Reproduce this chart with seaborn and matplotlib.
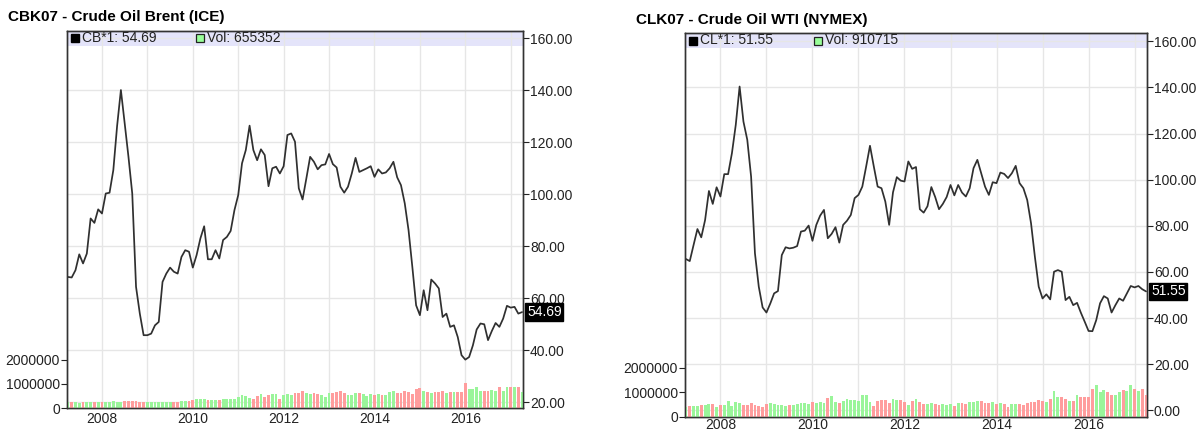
import numpy as np
import pandas as pd
import matplotlib
matplotlib.use("Agg")
import matplotlib.pyplot as plt
import matplotlib.transforms as mtransforms
from matplotlib.patches import Rectangle
from matplotlib.ticker import FixedLocator, FormatStrFormatter, MultipleLocator
import seaborn as sns

# ---------------- data ----------------
start_month = "2007-04-01"
n_months = 121

brent_title = "CBK07 - Crude Oil Brent (ICE)"
brent_symbol = "CB*1"
brent_last = 54.69
brent_last_volume = 655352
brent_close = [
    68.2, 68.0, 70.8, 76.9, 73.4, 77.2, 90.7, 89.0, 94.2,
    92.6, 100.3, 100.6, 109.3, 126.3, 140.1, 127.3, 114.4, 100.3, 64.4, 54.1, 45.8,
    45.8, 46.4, 49.6, 50.9, 66.3, 69.5, 71.8, 70.2, 69.5, 75.9, 78.5, 77.9,
    71.8, 76.6, 83.0, 87.7, 75.0, 75.0, 78.5, 75.3, 82.4, 83.6, 85.9, 93.9,
    99.7, 111.9, 117.0, 126.4, 117.0, 113.1, 117.3, 115.1, 103.1, 110.0, 110.6, 108.0,
    110.8, 122.8, 123.4, 120.2, 102.3, 98.0, 106.1, 114.4, 112.5, 109.6, 111.2, 111.5,
    115.5, 111.6, 110.3, 102.9, 100.6, 102.9, 108.0, 114.0, 108.6, 109.3, 110.0, 110.8,
    106.7, 109.6, 108.0, 108.4, 110.0, 112.5, 106.5, 103.5, 96.5, 86.2, 72.1, 57.3,
    53.5, 63.1, 55.4, 67.2, 65.7, 63.8, 52.8, 54.1, 49.0, 49.6, 45.1, 38.1,
    36.4, 37.4, 41.9, 48.0, 50.3, 50.0, 43.9, 47.4, 50.5, 49.0, 52.2, 57.1,
    56.4, 56.7, 54.1, 54.69,
]
brent_volume = [
    230e3, 230e3, 230e3, 220e3, 240e3, 230e3, 250e3, 240e3, 250e3,
    250e3, 230e3, 260e3, 290e3, 260e3, 240e3, 270e3, 280e3, 280e3, 270e3, 260e3, 250e3,
    240e3, 240e3, 250e3, 250e3, 250e3, 250e3, 260e3, 260e3, 250e3, 270e3, 280e3, 300e3,
    340e3, 360e3, 380e3, 380e3, 330e3, 330e3, 340e3, 340e3, 370e3, 380e3, 360e3, 380e3,
    450e3, 530e3, 500e3, 430e3, 380e3, 500e3, 580e3, 450e3, 550e3, 580e3, 560e3, 370e3,
    540e3, 560e3, 520e3, 600e3, 600e3, 700e3, 600e3, 560e3, 600e3, 560e3, 520e3, 450e3,
    600e3, 630e3, 660e3, 710e3, 620e3, 540e3, 540e3, 600e3, 600e3, 580e3, 500e3, 560e3,
    540e3, 560e3, 540e3, 520e3, 650e3, 700e3, 620e3, 620e3, 700e3, 660e3, 560e3, 800e3,
    820e3, 720e3, 660e3, 640e3, 650e3, 650e3, 720e3, 620e3, 680e3, 650e3, 680e3, 680e3,
    1020e3, 800e3, 780e3, 860e3, 720e3, 720e3, 720e3, 740e3, 720e3, 860e3, 700e3, 880e3,
    880e3, 880e3, 860e3, 655e3,
]

wti_title = "CLK07 - Crude Oil WTI (NYMEX)"
wti_symbol = "CL*1"
wti_last = 51.55
wti_last_volume = 910715
wti_close = [
    65.6, 64.7, 71.7, 78.6, 75.0, 82.5, 95.1, 89.5, 96.7,
    92.7, 102.4, 102.4, 111.5, 123.8, 140.4, 125.2, 117.3, 101.3, 68.1, 53.6, 44.6,
    42.4, 46.3, 50.7, 51.7, 67.3, 70.7, 70.2, 70.5, 71.2, 77.5, 77.9, 80.1,
    73.5, 80.4, 84.4, 86.9, 74.6, 76.5, 79.4, 72.7, 80.4, 82.2, 84.7, 92.0,
    93.4, 97.0, 105.7, 114.7, 105.7, 97.0, 96.3, 90.5, 80.4, 94.5, 101.1, 99.6,
    99.2, 107.9, 104.7, 105.5, 87.2, 85.7, 88.5, 96.8, 92.5, 87.2, 89.5, 92.5,
    97.7, 93.2, 97.7, 94.4, 92.7, 96.3, 105.0, 108.6, 102.8, 97.0, 93.4, 98.9,
    98.5, 103.1, 102.5, 100.7, 102.8, 106.0, 98.5, 96.3, 91.2, 81.1, 66.6, 53.6,
    48.5, 50.3, 48.1, 60.1, 60.8, 60.1, 47.8, 49.2, 45.6, 46.6, 42.3, 38.4,
    34.4, 34.3, 39.1, 46.4, 49.5, 48.5, 42.4, 45.6, 48.5, 47.5, 50.7, 53.9,
    53.3, 53.9, 52.5, 51.55,
]
wti_volume = [
    420e3, 440e3, 450e3, 440e3, 480e3, 500e3, 520e3, 520e3, 420e3,
    470e3, 470e3, 640e3, 460e3, 620e3, 560e3, 470e3, 480e3, 580e3, 480e3, 430e3, 420e3,
    520e3, 560e3, 520e3, 480e3, 480e3, 460e3, 470e3, 500e3, 520e3, 560e3, 560e3, 520e3,
    600e3, 580e3, 620e3, 580e3, 780e3, 840e3, 620e3, 560e3, 640e3, 720e3, 700e3, 680e3,
    640e3, 900e3, 900e3, 620e3, 440e3, 640e3, 700e3, 700e3, 560e3, 740e3, 700e3, 680e3,
    600e3, 480e3, 640e3, 740e3, 600e3, 520e3, 520e3, 580e3, 520e3, 480e3, 520e3, 480e3,
    520e3, 440e3, 580e3, 580e3, 520e3, 600e3, 620e3, 640e3, 650e3, 560e3, 560e3, 600e3,
    540e3, 560e3, 520e3, 400e3, 520e3, 520e3, 520e3, 500e3, 560e3, 620e3, 600e3, 680e3,
    640e3, 620e3, 720e3, 1050e3, 800e3, 820e3, 740e3, 640e3, 660e3, 900e3, 800e3, 800e3,
    800e3, 1120e3, 1300e3, 1020e3, 1100e3, 1000e3, 900e3, 900e3, 1000e3, 1100e3, 1040e3, 1300e3,
    1120e3, 1060e3, 1120e3, 910e3,
]

price_ticks = [0, 20, 40, 60, 80, 100, 120, 140, 160]
volume_ticks = [0, 1000000, 2000000]
year_ticks = [2008, 2010, 2012, 2014, 2016]

# ---------------- style ----------------
sns.set_style("white")
plt.rcParams["font.family"] = ["Liberation Sans", "DejaVu Sans"]
plt.rcParams["font.size"] = 10

W, H = 1203, 432
fig = plt.figure(figsize=(W / 100, H / 100), dpi=100)

UP = "#9af59a"
DOWN = "#ff9d9d"
GRID = "#e6e6e6"
BAND = "#e4e4fa"
INK = "#222222"


def panel(px_box, title, title_xy, symbol, last, last_vol, close, volume,
          price_lim, vol_top, xpad):
    x0, y0, x1, y1 = px_box  # pixel box (left, top, right, bottom)
    rect = [x0 / W, 1 - y1 / H, (x1 - x0) / W, (y1 - y0) / H]
    months = pd.date_range(start_month, periods=n_months, freq="MS")
    t = months.year + (months.month - 1) / 12.0
    close_arr = np.asarray(close, dtype=float)
    direction = np.where(np.diff(np.r_[close_arr[0], close_arr]) >= 0, "up", "down")
    df = pd.DataFrame({"t": t, "close": close_arr,
                       "volume": np.asarray(volume, dtype=float),
                       "dir": direction})

    ax = fig.add_axes(rect)
    ax.set_facecolor("white")
    band_h = 15 / (y1 - y0)
    ax.add_patch(Rectangle((0, 1 - band_h), 1, band_h, transform=ax.transAxes,
                           facecolor=BAND, edgecolor="none", zorder=0.2))
    sns.lineplot(data=df, x="t", y="close", ax=ax, color="#303030",
                 linewidth=1.25, zorder=3)

    axv = ax.twinx()
    axv.patch.set_visible(False)
    sns.barplot(data=df, x="t", y="volume", hue="dir",
                palette={"up": UP, "down": DOWN}, native_scale=True,
                dodge=False, errorbar=None, width=0.75, legend=False,
                ax=axv, saturation=1, linewidth=0)

    # limits
    ax.set_xlim(2007.23, 2017.27)
    axv.set_xlim(2007.23, 2017.27)
    ax.set_ylim(*price_lim)
    axv.set_ylim(0, vol_top)

    # price axis on the right
    ax.yaxis.tick_right()
    ax.yaxis.set_major_locator(FixedLocator(price_ticks))
    ax.yaxis.set_major_formatter(FormatStrFormatter("%.2f"))
    ax.tick_params(axis="y", which="major", direction="out", length=4, width=0.8,
                   pad=1, labelsize=10, colors=INK, left=False, right=True,
                   labelleft=False, labelright=True)
    # volume axis on the left
    axv.yaxis.tick_left()
    axv.yaxis.set_major_locator(FixedLocator(volume_ticks))
    axv.yaxis.set_major_formatter(FormatStrFormatter("%d"))
    axv.tick_params(axis="y", direction="out", length=4, width=0.8, pad=1,
                    labelsize=10, colors=INK, left=True, right=False,
                    labelleft=True, labelright=False)
    # time axis
    ax.xaxis.set_major_locator(FixedLocator(year_ticks))
    ax.xaxis.set_minor_locator(MultipleLocator(1))
    ax.xaxis.set_major_formatter(FormatStrFormatter("%d"))
    ax.tick_params(axis="x", which="both", length=0, pad=xpad, labelsize=10,
                   colors=INK)
    axv.tick_params(axis="x", which="both", length=0, labelbottom=False)

    ax.grid(True, axis="x", which="both", color=GRID, linewidth=1.0)
    ax.grid(True, axis="y", which="major", color=GRID, linewidth=1.0)
    ax.set_axisbelow(True)
    for a in (ax, axv):
        a.set_xlabel("")
        a.set_ylabel("")
        for s in a.spines.values():
            s.set_color("#333333")
            s.set_linewidth(1.0)

    # legend in the band
    band_mid = 1 - band_h / 2
    dx = 1 / (x1 - x0)
    axv.plot([8 * dx], [band_mid], marker="s", markersize=5.8, color="black",
             transform=ax.transAxes, clip_on=False, zorder=5)
    axv.text(15 * dx, band_mid, f"{symbol}: {last:.2f}", transform=ax.transAxes,
             va="center", ha="left", fontsize=10, color=INK)
    axv.plot([133 * dx], [band_mid], marker="s", markersize=5.8,
             markerfacecolor="#99ff99", markeredgecolor="#222222",
             markeredgewidth=0.9, transform=ax.transAxes, clip_on=False,
             zorder=5)
    axv.text(140 * dx, band_mid, f"Vol: {last_vol}", transform=ax.transAxes,
             va="center", ha="left", fontsize=10, color=INK)

    # last value tag on the right axis
    trans = mtransforms.blended_transform_factory(ax.transAxes, ax.transData)
    ax.text(1 + 4 * dx, last, f"{last:.2f}", transform=trans, va="center",
            ha="left", fontsize=10, color="white", zorder=10, clip_on=False,
            bbox=dict(boxstyle="square,pad=0.12", facecolor="black",
                      edgecolor="black"))

    fig.text(title_xy[0] / W, 1 - title_xy[1] / H, title, ha="left",
             va="center", fontsize=11, fontweight="bold", color="black")


panel((67, 31, 523, 408), brent_title, (8, 17), brent_symbol, brent_last,
      brent_last_volume, brent_close, brent_volume, (17.8, 162.8), 15.57e6, 3)
panel((685, 33, 1147, 417), wti_title, (636, 20), wti_symbol, wti_last,
      wti_last_volume, wti_close, wti_volume, (-2.9, 163.6), 15.6e6, 0.5)

fig.savefig("out.png", dpi=100, facecolor="white")
